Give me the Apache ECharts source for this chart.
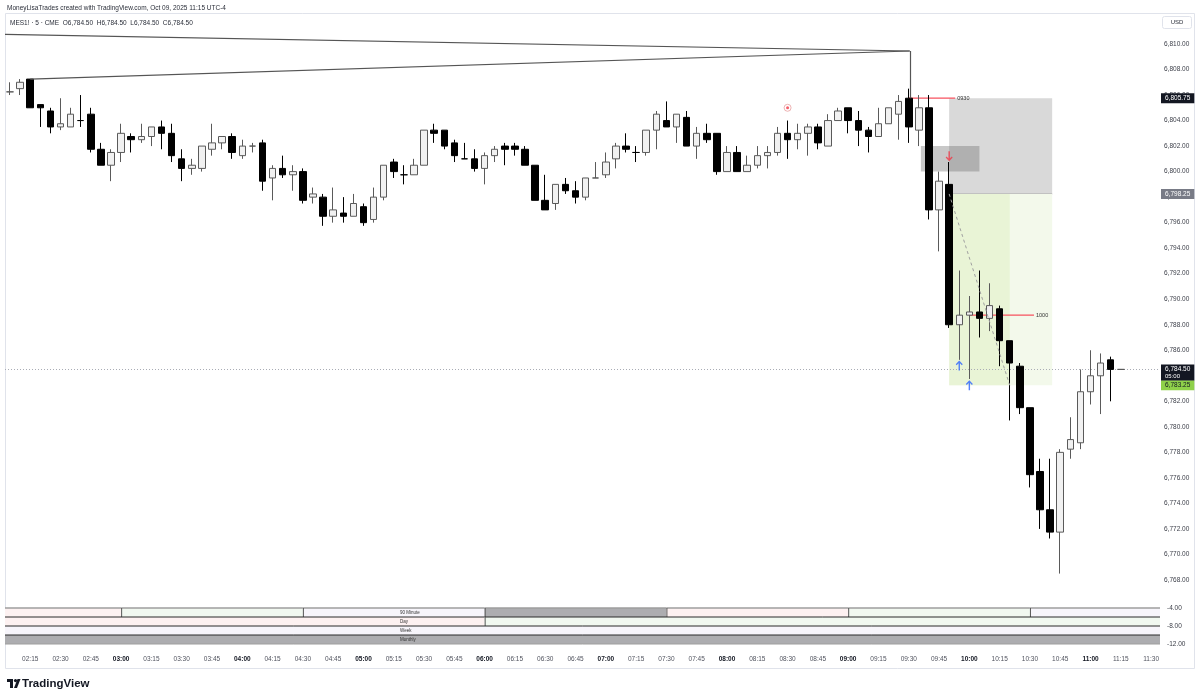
<!DOCTYPE html>
<html>
<head>
<meta charset="utf-8">
<script src="https://cdn.jsdelivr.net/npm/echarts@6/dist/echarts.min.js"></script>
<style>html,body{margin:0;padding:0;background:#ffffff}#c{width:1200px;height:700px}</style>
</head>
<body>
<div id="c"></div>
<script>
// ---------- data ----------
const startTime = '02:05';          // first bar, 5-minute bars
const opens  = [6806.25,6806.5,6807.25,6805.25,6804.75,6803.5,6803.5,6804,6804.5,6801.75,6800.5,6801.5,6802.75,6802.5,6802.75,6803.5,6803,6801,6800.25,6800.25,6801.75,6802.25,6802.75,6801.25,6802,6802.25,6799.5,6800.25,6799.75,6800,6798,6798,6796.5,6796.75,6796.5,6797.25,6796.25,6798,6800.75,6799.75,6799.75,6800.5,6803.25,6803.25,6802.25,6801,6801,6800.25,6801.25,6802,6802,6801.75,6800.5,6797.75,6797.5,6799,6798.5,6798,6799.5,6799.75,6801,6802,6801.5,6801.5,6803.25,6804,6803.5,6804.25,6802,6803,6803,6800,6801.5,6800,6800.5,6801.25,6801.5,6803,6802.5,6803,6803.5,6802,6804,6805,6804,6803.25,6802.75,6803.75,6804.5,6805.75,6803.25,6805,6797,6799,6788,6788.75,6789,6788.5,6789.25,6786.75,6784.75,6781.5,6776.5,6773.5,6771.75,6778.25,6778.75,6782.75,6784,6785.25,6784.5];
const highs  = [6807,6807.25,6807.25,6805.25,6805,6805.75,6805,6806,6805,6802.25,6801.75,6803.75,6803,6803.75,6803.5,6804,6803.75,6801.75,6801,6802,6803.75,6802.75,6803,6802.5,6802.25,6802.5,6800.5,6801.25,6800.5,6800.25,6798.75,6798.25,6798.75,6798,6798.25,6797.5,6798.75,6800.5,6801,6800.5,6801,6803.25,6803.75,6803.25,6802.5,6802.25,6801.75,6801.5,6802,6802.25,6802.25,6802,6800.5,6799.75,6799,6799.5,6799.25,6799.5,6800.75,6801.5,6802.25,6803,6802,6803.25,6804.75,6805.5,6804.5,6804.75,6803.5,6803.75,6803,6802,6802,6801.25,6802,6802,6803.5,6804,6803.75,6803.75,6803.75,6804.5,6805,6805,6804.75,6803.5,6805,6805,6806,6806.5,6806,6806,6800,6800.75,6792.25,6790.25,6792.25,6791.25,6789.5,6786.75,6785,6781.5,6777.5,6777.5,6778.25,6780.75,6784.5,6786,6785.75,6785.5,6784.5];
const lows   = [6806,6806,6805,6803.5,6803,6803.25,6803.5,6803.5,6801.5,6800.5,6799.25,6800.75,6801.5,6802.25,6802,6801.75,6800.75,6799.25,6799.75,6800,6801.25,6801.75,6801,6801,6801.5,6798.5,6797.75,6799.5,6798.5,6797.5,6797.5,6795.75,6796,6796,6796.5,6795.75,6796,6797.75,6799.5,6799,6799.75,6800.5,6802.25,6801.75,6800.75,6801,6800,6799,6800.75,6800.5,6801.25,6800.5,6797.75,6797,6797,6798.25,6797.5,6797.75,6799.5,6799.5,6800.25,6801.5,6800.75,6801.25,6801.75,6803.5,6802.25,6802,6801,6802.25,6799.75,6800,6800,6800,6800.25,6800.25,6801.25,6801,6801.75,6801.25,6801.75,6802,6804,6803,6802,6801.5,6802.75,6803.75,6802.5,6802.25,6802,6796.25,6793.75,6787.75,6785.25,6783.75,6787,6787.5,6784.75,6780.5,6781,6775.25,6772,6771.25,6768.5,6777.5,6778.25,6781.75,6781,6782,6784.5];
const closes = [6806.25,6807,6805,6805,6803.5,6803.75,6804.5,6804,6801.75,6800.5,6801.5,6803,6802.5,6802.75,6803.5,6803,6801.25,6800.25,6800.5,6802,6802.25,6802.75,6801.5,6802,6802,6799.25,6800.25,6799.75,6800,6797.75,6798.25,6796.5,6797,6796.5,6797.5,6796,6798,6800.5,6800,6799.75,6800.5,6803.25,6803,6802,6801.25,6801,6800.25,6801.25,6801.75,6801.75,6801.75,6800.5,6797.75,6797,6799,6798.5,6798,6799.5,6799.5,6800.75,6802,6801.75,6801.5,6803.25,6804.5,6803.5,6804.5,6802,6803,6802.5,6800,6801.5,6800,6800.5,6801.25,6801.5,6803,6802.5,6803,6803.5,6802.25,6804,6804.75,6804,6803.25,6802.75,6803.75,6805,6805.5,6803.5,6805,6797,6799.25,6788,6788.75,6789,6788.5,6789.5,6786.75,6785,6781.5,6776.25,6773.5,6771.75,6778,6779,6782.75,6784,6785,6784.5,6784.5];

const timeTicks  = ['02:15','02:30','02:45','03:00','03:15','03:30','03:45','04:00','04:15','04:30','04:45','05:00','05:15','05:30','05:45','06:00','06:15','06:30','06:45','07:00','07:15','07:30','07:45','08:00','08:15','08:30','08:45','09:00','09:15','09:30','09:45','10:00','10:15','10:30','10:45','11:00','11:15','11:30'];
const priceTicks = [6768,6770,6772,6774,6776,6778,6780,6782,6784,6786,6788,6790,6792,6794,6796,6798,6800,6802,6804,6806,6808,6810];

// position tool & levels
const stopPrice = 6805.75, entryPrice = 6798.25, targetPrice = 6783.25, lastPrice = 6784.50;
const positionFrom = '09:50', positionTo = '10:41', progressTo = '10:20';
const fvgFrom = '09:36', fvgTo = '10:05', fvgLow = 6800, fvgHigh = 6802;
// session opens: [label, from, to, price]
const sessionOpens = [['0930', '09:30', '09:53', 6805.75], ['1000', '10:00', '10:32', 6788.75]];
// drawn lines: [time, price]
const trendA = ['02:02.5', 6810.75], trendB = ['09:30.5', 6809.45], trendC = ['02:15', 6807.25], trendD = ['09:30.5', 6805.75];
const circleMark = ['08:30', 6805.0];
const downArrows = [['09:50', 6801.2]];
const upArrows   = [['09:55', 6784.8], ['10:00', 6783.25]];

// bottom panel cycles: [from, to, colourKey]
const rowNames = ['90 Minute', 'Day', 'Week', 'Monthly'];
const cycles90 = [['01:30','03:00',0],['03:00','04:30',1],['04:30','06:00',2],['06:00','07:30',3],['07:30','09:00',0],['09:00','10:30',1],['10:30','12:00',2]];
const cyclesDay = [['00:00','06:00',0],['06:00','12:00',1]];
const cyclesWeek = [['00:00','12:00',2]];
const cyclesMonth = [['00:00','12:00',3]];
const panelTicks = { min: -12, max: -4, interval: 4 };

// ---------- helpers ----------
const FONT = '"Liberation Sans", Arial, sans-serif';
const toMin = t => { const [h, m] = t.split(':').map(Number); return h * 60 + m; };
const idx = t => (toMin(t) - toMin(startTime)) / 5;
const idxToTime = v => { const m = Math.round(toMin(startTime) + v * 5); const h = Math.floor(m / 60), mm = m % 60; return (h < 10 ? '0' : '') + h + ':' + (mm < 10 ? '0' : '') + mm; };
const fmt = v => v.toLocaleString('en-US', { minimumFractionDigits: 2, maximumFractionDigits: 2 });

const X_MIN = -0.5, X_MAX = 113.88;
const candleData = opens.map((o, i) => [i, o, closes[i], lows[i], highs[i]]);

const zoneStyles = [
  { fill: '#d9d9d9' },
  { fill: '#f3f9eb' },
  { fill: '#e9f4d6' },
  { fill: 'rgba(110,110,110,0.38)' }
];
const zoneData = [
  [idx(positionFrom), idx(positionTo), entryPrice, stopPrice, 0],
  [idx(positionFrom), idx(positionTo), targetPrice, entryPrice, 1],
  [idx(positionFrom), idx(progressTo), targetPrice, entryPrice, 2],
  [idx(fvgFrom), idx(fvgTo), fvgLow, fvgHigh, 3]
];

const palette = ['#fdf1f1', '#f1f8f0', '#f7f5fb', '#adadb0'];
const panelData = [];
[cycles90, cyclesDay, cyclesWeek, cyclesMonth].forEach((row, r) => row.forEach(c => panelData.push([idx(c[0]), idx(c[1]), r, c[2]])));

function clipRect(params, x0, y0, x1, y1) {
  return echarts.graphic.clipRectByRect(
    { x: Math.min(x0, x1), y: Math.min(y0, y1), width: Math.abs(x1 - x0), height: Math.abs(y1 - y0) },
    { x: params.coordSys.x, y: params.coordSys.y, width: params.coordSys.width, height: params.coordSys.height });
}

const chart = echarts.init(document.getElementById('c'), null, { renderer: 'canvas', width: 1200, height: 700 });

const priceTag = (price, bg, color) => ({
  yAxis: price,
  lineStyle: { color: 'rgba(0,0,0,0)', width: 1, type: 'solid' },
  label: { show: true, position: 'end', distance: 1, formatter: fmt(price), backgroundColor: bg, color: color,
           fontSize: 6.5, fontFamily: FONT, padding: [2, 4, 1, 4] }
});
const drawLine = { color: '#555555', width: 1.2, type: 'solid' };

const option = {
  animation: false,
  backgroundColor: '#ffffff',
  grid: [
    { left: 5, right: 40, top: 14, height: 586, outerBoundsMode: 'none' },
    { left: 5, right: 40, top: 608, height: 36, outerBoundsMode: 'none' }
  ],
  xAxis: [
    { type: 'value', gridIndex: 0, min: X_MIN, max: X_MAX, axisLine: { show: false }, axisTick: { show: false }, axisLabel: { show: false }, splitLine: { show: false } },
    { type: 'value', gridIndex: 1, min: X_MIN, max: X_MAX, axisLine: { show: false }, axisTick: { show: false }, splitLine: { show: false },
      axisLabel: {
        customValues: timeTicks.map(idx), margin: 12,
        formatter: v => { const s = idxToTime(v); return s.slice(3) === '00' ? '{b|' + s + '}' : '{n|' + s + '}'; },
        rich: { b: { fontSize: 6.5, fontWeight: 'bold', color: '#131722', fontFamily: FONT }, n: { fontSize: 6.5, color: '#50535e', fontFamily: FONT } }
      } }
  ],
  yAxis: [
    { type: 'value', gridIndex: 0, position: 'right', min: 6766.43, max: 6812.35, axisLine: { show: false }, axisTick: { show: false }, splitLine: { show: false },
      axisLabel: { customValues: priceTicks, formatter: fmt, margin: 4, fontSize: 6.5, color: '#3a3d47', fontFamily: FONT } },
    { type: 'value', gridIndex: 1, position: 'right', min: panelTicks.min, max: panelTicks.max, interval: panelTicks.interval,
      axisLine: { show: false }, axisTick: { show: false }, splitLine: { show: false },
      axisLabel: { formatter: fmt, margin: 7, fontSize: 6.5, color: '#3a3d47', fontFamily: FONT } }
  ],
  series: [
    { // position tool / zones + price tags
      type: 'custom', xAxisIndex: 0, yAxisIndex: 0, z: 1, silent: true,
      data: zoneData,
      renderItem: (params, api) => {
        const a = api.coord([api.value(0), api.value(3)]);
        const b = api.coord([api.value(1), api.value(2)]);
        const shape = clipRect(params, a[0], a[1], b[0], b[1]);
        if (!shape) return null;
        const k = api.value(4);
        const children = [{ type: 'rect', shape, style: { fill: zoneStyles[k].fill } }];
        if (k === 0) children.push({ type: 'line', shape: { x1: shape.x, y1: shape.y + shape.height, x2: shape.x + shape.width, y2: shape.y + shape.height }, style: { stroke: '#b8b8b8', lineWidth: 1.5 } });
        return { type: 'group', children };
      },
      markLine: {
        symbol: 'none', silent: true, animation: false, z: 2,
        label: { show: false },
        data: [
          priceTag(stopPrice, '#131722', '#ffffff'),
          priceTag(entryPrice, '#787b86', '#ffffff'),
          priceTag(targetPrice, '#8fd14a', '#131722'),
          { yAxis: lastPrice, lineStyle: { color: '#a9acb5', type: [1, 2], width: 1 },
            label: { show: true, position: 'end', distance: 1, offset: [0, 3], backgroundColor: '#131722', padding: [1, 4, 0, 4],
                     formatter: '{a|' + fmt(lastPrice) + '}\n{c|05:00}',
                     rich: { a: { color: '#ffffff', fontSize: 6.5, fontFamily: FONT, lineHeight: 7.5 }, c: { color: '#ffffff', fontSize: 6, fontFamily: FONT, lineHeight: 7.5 } } } }
        ]
      }
    },
    { // session open levels (behind the candles)
      type: 'custom', xAxisIndex: 0, yAxisIndex: 0, z: 2, silent: true,
      data: sessionOpens.map((s, k) => [idx(s[1]), idx(s[2]), s[3], k]),
      renderItem: (params, api) => {
        const a = api.coord([api.value(0), api.value(2)]);
        const b = api.coord([api.value(1), api.value(2)]);
        return { type: 'group', children: [
          { type: 'rect', shape: { x: a[0], y: a[1] - 0.65, width: b[0] - a[0], height: 1.3 }, style: { fill: '#f7525f' } },
          { type: 'text', x: b[0] + 2, y: a[1], style: { text: sessionOpens[api.value(3)][0], fill: '#333333', fontSize: 5.5, fontFamily: FONT, verticalAlign: 'middle', align: 'left' } }
        ] };
      }
    },
    {
      type: 'candlestick', xAxisIndex: 0, yAxisIndex: 0, z: 3, barWidth: 7, silent: true,
      data: candleData,
      itemStyle: { color: '#f1f1f1', color0: '#000000', borderColor: '#5a5a5a', borderColor0: '#000000', borderWidth: 1 },
      markLine: {
        symbol: 'none', silent: true, animation: false, z: 4,
        label: { show: false },
        data: [
          [{ coord: [idx(trendA[0]), trendA[1]], lineStyle: drawLine }, { coord: [idx(trendB[0]), trendB[1]], lineStyle: drawLine }],
          [{ coord: [idx(trendC[0]), trendC[1]], lineStyle: drawLine }, { coord: [idx(trendB[0]), trendB[1]], lineStyle: drawLine }],
          [{ coord: [idx(trendB[0]), trendB[1]], lineStyle: drawLine }, { coord: [idx(trendD[0]), trendD[1]], lineStyle: drawLine }],
          [{ coord: [idx(positionFrom), entryPrice], lineStyle: { color: '#a0a0a0', width: 1, type: [3, 3] } },
           { coord: [idx(progressTo), targetPrice], lineStyle: { color: '#a0a0a0', width: 1, type: [3, 3] } }]
        ]
      }
    },
    { // signal marker circle
      type: 'scatter', xAxisIndex: 0, yAxisIndex: 0, z: 5, silent: true,
      data: [[idx(circleMark[0]), circleMark[1]]], symbol: 'circle', symbolSize: 7,
      itemStyle: { color: '#ffffff', borderColor: '#e8a0a0', borderWidth: 1 }
    },
    {
      type: 'scatter', xAxisIndex: 0, yAxisIndex: 0, z: 6, silent: true,
      data: [[idx(circleMark[0]), circleMark[1]]], symbol: 'circle', symbolSize: 3,
      itemStyle: { color: '#f23645' }
    },
    {
      type: 'scatter', xAxisIndex: 0, yAxisIndex: 0, z: 6, silent: true,
      data: downArrows.map(d => [idx(d[0]), d[1]]),
      symbol: 'path://M5,0 L9.5,4.5 L8.3,5.6 L5.9,3.2 L5.9,12 L4.1,12 L4.1,3.2 L1.7,5.6 L0.5,4.5 Z', symbolRotate: 180, symbolSize: [7, 10],
      itemStyle: { color: '#f23645' }
    },
    {
      type: 'scatter', xAxisIndex: 0, yAxisIndex: 0, z: 6, silent: true,
      data: upArrows.map(d => [idx(d[0]), d[1]]),
      symbol: 'path://M5,0 L9.5,4.5 L8.3,5.6 L5.9,3.2 L5.9,12 L4.1,12 L4.1,3.2 L1.7,5.6 L0.5,4.5 Z', symbolSize: [7, 10],
      itemStyle: { color: '#2962ff' }
    },
    { // cycle panel cells
      type: 'custom', xAxisIndex: 1, yAxisIndex: 1, z: 2, silent: true,
      data: panelData,
      renderItem: (params, api) => {
        const r = api.value(2);
        const top = panelTicks.max - 2 * r, bot = top - 2;
        const a = api.coord([api.value(0), top]);
        const b = api.coord([api.value(1), bot]);
        const shape = clipRect(params, a[0], a[1], b[0], b[1]);
        if (!shape) return null;
        const children = [{ type: 'rect', shape, style: { fill: palette[api.value(3)] } }];
        children.push({ type: 'line', shape: { x1: shape.x, y1: shape.y, x2: shape.x + shape.width, y2: shape.y },
                        style: { stroke: r === 0 ? '#9e9e9e' : '#2a2a2a', lineWidth: r === 0 ? 1.6 : 1 } });
        if (a[0] > params.coordSys.x + 1) children.push({ type: 'line', shape: { x1: shape.x + 0.5, y1: shape.y, x2: shape.x + 0.5, y2: shape.y + shape.height }, style: { stroke: '#555555', lineWidth: 1 } });
        if (r === 3) children.push({ type: 'line', shape: { x1: shape.x, y1: shape.y + shape.height, x2: shape.x + shape.width, y2: shape.y + shape.height }, style: { stroke: '#9e9e9e', lineWidth: 1 } });
        return { type: 'group', children };
      }
    },
    { // cycle panel row names
      type: 'custom', xAxisIndex: 1, yAxisIndex: 1, z: 3, silent: true,
      data: rowNames.map((n, r) => [r]),
      renderItem: (params, api) => {
        const r = api.value(0);
        const p = api.coord([0, panelTicks.max - 2 * r - 1]);
        return { type: 'text', x: params.coordSys.x + params.coordSys.width * 0.342, y: p[1],
                 style: { text: rowNames[r], fill: '#333333', fontSize: 4.5, fontFamily: FONT, verticalAlign: 'middle', align: 'left' } };
      }
    }
  ],
  graphic: [
    { type: 'rect', silent: true, z: 0, shape: { x: 5.5, y: 13.5, width: 1189, height: 655 }, style: { fill: 'none', stroke: '#e0e3eb', lineWidth: 1 } },
    { type: 'text', silent: true, left: 7, top: 5, style: { text: 'MoneyLisaTrades created with TradingView.com, Oct 09, 2025 11:15 UTC-4', fontSize: 6.5, fill: '#2a2e39', fontFamily: FONT } },
    { type: 'text', silent: true, left: 10, top: 20, style: { text: 'MES1! · 5 · CME  O6,784.50  H6,784.50  L6,784.50  C6,784.50', fontSize: 6.5, fill: '#2a2e39', fontFamily: FONT } },
    { type: 'rect', silent: true, shape: { x: 1162.5, y: 16.5, width: 29, height: 12, r: 2 }, style: { fill: '#ffffff', stroke: '#e0e3eb', lineWidth: 1 } },
    { type: 'text', silent: true, x: 1177, y: 22.5, style: { text: 'USD', fontSize: 6, fill: '#2a2e39', fontFamily: FONT, align: 'center', verticalAlign: 'middle' } },
    { type: 'group', silent: true, left: 7, top: 679, children: [
      { type: 'rect', shape: { x: 0, y: 0, width: 6, height: 3 }, style: { fill: '#131722' } },
      { type: 'rect', shape: { x: 3, y: 0, width: 3, height: 9 }, style: { fill: '#131722' } },
      { type: 'circle', shape: { cx: 8.5, cy: 1.6, r: 1.6 }, style: { fill: '#131722' } },
      { type: 'polygon', shape: { points: [[7, 9], [10.5, 0], [13.5, 0], [10, 9]] }, style: { fill: '#131722' } }
    ] },
    { type: 'text', silent: true, left: 22, top: 678, style: { text: 'TradingView', fontSize: 11.5, fontWeight: 'bold', fill: '#131722', fontFamily: FONT } }
  ]
};
chart.setOption(option);
</script>
</body>
</html>
